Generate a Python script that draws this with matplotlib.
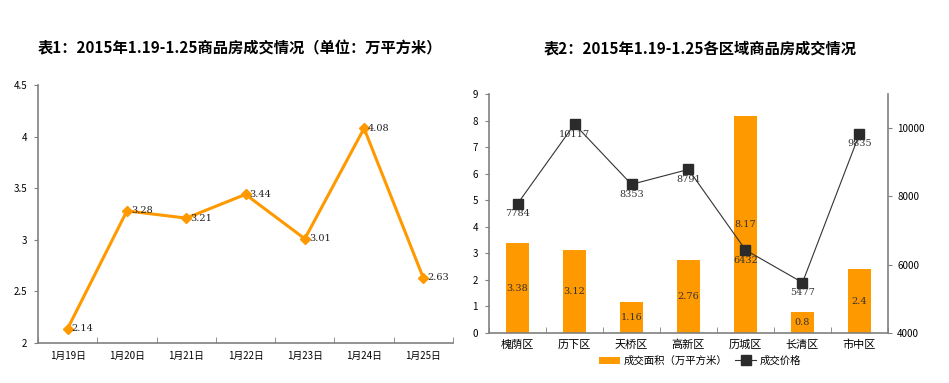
import matplotlib
matplotlib.use("Agg")
import matplotlib.pyplot as plt
import numpy as np

plt.rcParams['font.family'] = ['Noto Sans CJK SC', 'DejaVu Sans']

dates = ['1月19日', '1月20日', '1月21日', '1月22日', '1月23日', '1月24日', '1月25日']
area_by_day = [2.14, 3.28, 3.21, 3.44, 3.01, 4.08, 2.63]

districts = ['槐荫区', '历下区', '天桥区', '高新区', '历城区', '长清区', '市中区']
district_area = [3.38, 3.12, 1.16, 2.76, 8.17, 0.8, 2.4]
district_price = [7784, 10117, 8353, 8791, 6432, 5477, 9835]

title1 = '表1：2015年1.19-1.25商品房成交情况（单位：万平方米）'
title2 = '表2：2015年1.19-1.25各区域商品房成交情况'

orange = '#FF9900'
line_orange = '#FF9900'
axis_gray = '#808080'

fig = plt.figure(figsize=(9.49, 3.83), dpi=100)

# ---- Left chart ----
ax1 = fig.add_axes([38/949, 1-343/383, (453-38)/949, (343-85)/383])
x1 = np.arange(len(dates))
ax1.plot(x1, area_by_day, color=line_orange, lw=2.2, marker='D', ms=5.5,
         markerfacecolor=line_orange, markeredgecolor=line_orange)
for xi, v in zip(x1, area_by_day):
    ax1.annotate(f'{v:.2f}', (xi, v), xytext=(3, 0), textcoords='offset points',
                 ha='left', va='center', fontsize=7, family='DejaVu Serif', color='#222222')
ax1.set_xlim(-0.5, len(dates) - 0.5)
ax1.set_ylim(2, 4.5)
ax1.set_yticks([2, 2.5, 3, 3.5, 4, 4.5])
ax1.set_yticklabels(['2', '2.5', '3', '3.5', '4', '4.5'], fontsize=7)
ax1.set_xticks(x1)
ax1.set_xticklabels(dates, fontsize=7)
ax1.set_xticks(np.arange(-0.5, len(dates)), minor=True)
ax1.tick_params(axis='x', which='major', length=0, pad=6)
ax1.tick_params(axis='x', which='minor', length=4, direction='in', color=axis_gray)
ax1.tick_params(axis='y', length=3, direction='out', color=axis_gray, pad=5)
for s in ['top', 'right']:
    ax1.spines[s].set_visible(False)
for s in ['left', 'bottom']:
    ax1.spines[s].set_color(axis_gray)
    ax1.spines[s].set_linewidth(1.2)
fig.text(240/949, 1-48/383, title1, ha='center', va='center', fontsize=11, fontweight='bold')

# ---- Right chart ----
ax2 = fig.add_axes([489/949, 1-333/383, (888-489)/949, (333-94)/383])
x2 = np.arange(len(districts))
bars = ax2.bar(x2, district_area, width=0.42, color=orange, label='成交面积（万平方米）', zorder=2)
for xi, v in zip(x2, district_area):
    ax2.text(xi, v / 2, f'{v:g}', ha='center', va='center', fontsize=7,
             family='DejaVu Serif', color='#333333', zorder=5)
ax2.set_xlim(-0.5, len(districts) - 0.5)
ax2.set_ylim(0, 9)
ax2.set_yticks(range(0, 10))
ax2.tick_params(axis='y', labelsize=7, length=3, direction='out', color=axis_gray, pad=5)
ax2.set_xticks(x2)
ax2.set_xticklabels(districts, fontsize=8)
ax2.set_xticks(np.arange(-0.5, len(districts)), minor=True)
ax2.tick_params(axis='x', which='major', length=0, pad=5)
ax2.tick_params(axis='x', which='minor', length=4, direction='in', color=axis_gray)
ax2.spines['top'].set_visible(False)
ax2.spines['right'].set_visible(False)
for s in ['left', 'bottom']:
    ax2.spines[s].set_color(axis_gray)
    ax2.spines[s].set_linewidth(1.2)

ax3 = ax2.twinx()
ln, = ax3.plot(x2, district_price, color='#333333', lw=0.8, marker='s', ms=7,
               markerfacecolor='#2b2b2b', markeredgecolor='#2b2b2b', label='成交价格', zorder=4)
for xi, v in zip(x2, district_price):
    ax3.annotate(f'{v}', (xi, v), xytext=(0, -4), textcoords='offset points',
                 ha='center', va='top', fontsize=7, family='DejaVu Serif', color='#333333')
ax3.set_ylim(4000, 11000)
ax3.set_yticks([4000, 6000, 8000, 10000])
ax3.tick_params(axis='y', labelsize=7, length=3, direction='out', color=axis_gray)
ax3.spines['top'].set_visible(False)
ax3.spines['left'].set_visible(False)
ax3.spines['bottom'].set_visible(False)
ax3.spines['right'].set_color(axis_gray)
ax3.spines['right'].set_linewidth(1.2)

leg = fig.legend([bars, ln], ['成交面积（万平方米）', '成交价格'], loc='center',
                 bbox_to_anchor=(700/949, 1-361/383), ncol=2, frameon=False, fontsize=7.5,
                 handlelength=2.0, handletextpad=0.3, columnspacing=0.8)
fig.text(700/949, 1-48/383, title2, ha='center', va='center', fontsize=11, fontweight='bold')

fig.savefig('out.png', dpi=100)
